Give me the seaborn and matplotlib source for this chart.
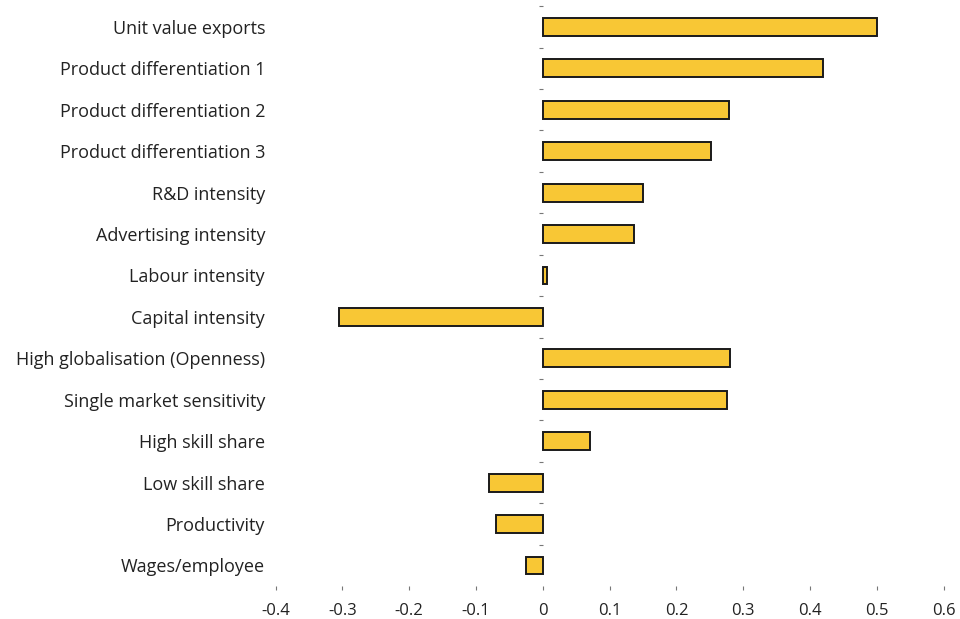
import numpy as np
import pandas as pd
import matplotlib.pyplot as plt
import seaborn as sns

# indicators and their coefficients
indicators = ["Unit value exports", "Product differentiation 1", "Product differentiation 2",
              "Product differentiation 3", "R&D intensity", "Advertising intensity",
              "Labour intensity", "Capital intensity", "High globalisation (Openness)",
              "Single market sensitivity", "High skill share", "Low skill share",
              "Productivity", "Wages/employee"]
coefs = [0.50, 0.42, 0.278, 0.252, 0.15, 0.136, 0.007, -0.305, 0.28, 0.275,
         0.07, -0.08, -0.07, -0.025]
xticks = [-0.4, -0.3, -0.2, -0.1, 0, 0.1, 0.2, 0.3, 0.4, 0.5, 0.6]
xticklabels = ["-0.4", "-0.3", "-0.2", "-0.1", "0", "0.1", "0.2", "0.3", "0.4", "0.5", "0.6"]

df = pd.DataFrame({"indicator": indicators, "coef": coefs})

sns.set_style("white")
plt.rcParams['font.family'] = ['Open Sans', 'DejaVu Sans']

fig = plt.figure(figsize=(9.6, 6.19), dpi=100)
ax = fig.add_axes([0.287, 0.053, 0.696, 0.937])

sns.barplot(data=df, x="coef", y="indicator", orient="h", color="#F8C735",
            saturation=1, edgecolor="#1a1a1a", linewidth=1.4, width=0.43, ax=ax)

ax.set_xlim(-0.4, 0.6)
ax.set_ylim(len(indicators) - 0.5, -0.5)
ax.set_xticks(xticks)
ax.set_xticklabels(xticklabels, fontsize=12, color="#222222")
ax.tick_params(axis="x", bottom=True, length=3, width=0.8, color="#777777", pad=9)
ax.tick_params(axis="y", left=False, labelsize=13, labelcolor="#222222", pad=4)
ax.set_xlabel("")
ax.set_ylabel("")
for s in ax.spines.values():
    s.set_visible(False)

# small dashes on the zero line between categories
sec = ax.secondary_yaxis(0.4)
sec.set_yticks(np.arange(-0.5, len(indicators) - 0.5, 1.0))
sec.tick_params(length=3, width=0.8, color="#777777", labelleft=False, labelright=False)
sec.spines["left"].set_visible(False)
sec.spines["right"].set_visible(False)

fig.savefig("out.png", dpi=100, facecolor="white")
